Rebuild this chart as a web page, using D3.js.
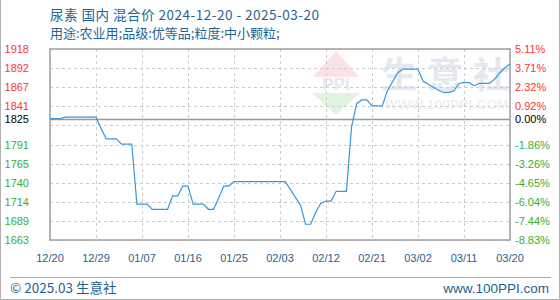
<!DOCTYPE html>
<html>
<head>
<meta charset="utf-8">
<script src="https://cdn.jsdelivr.net/npm/d3@7"></script>
<style>
  body { margin: 0; background: #fff; }
  svg { display: block; }
</style>
</head>
<body>
<div id="chart"></div>
<script>
// price data, one value per day from 2024-12-20
const startDate = "2024-12-20"
const prices = [
  1825, 1825, 1825, 1827, 1827, 1827, 1827, 1827, 1827, 1827,
  1812, 1798, 1798, 1798, 1791, 1791, 1791, 1711, 1711, 1711,
  1704, 1704, 1704, 1704, 1722, 1722, 1735, 1735, 1711, 1711,
  1711, 1704, 1704, 1719, 1735, 1735, 1741, 1741, 1741, 1741,
  1741, 1741, 1741, 1741, 1741, 1741, 1741, 1731, 1720, 1710,
  1684, 1684, 1700, 1712, 1715, 1715, 1728, 1728, 1728, 1814,
  1845, 1850, 1850, 1842, 1842, 1842, 1862, 1874, 1886, 1891,
  1891, 1891, 1891, 1875, 1871, 1867, 1863, 1860, 1860, 1862,
  1872, 1873, 1873, 1869, 1872, 1872, 1872, 1878, 1886, 1893,
  1898
]
const basePrice = 1825
const gridValues = [1663, 1688.5, 1714, 1739.5, 1765, 1790.5, 1816, 1841.5, 1867, 1892.5, 1918]
const leftTicks = [1918, 1892.5, 1867, 1841.5, 1825, 1790.5, 1765, 1739.5, 1714, 1688.5, 1663]
const leftLabels = ["1918", "1892", "1867", "1841", "1825", "1791", "1765", "1740", "1714", "1689", "1663"]
const rightLabels = ["5.11%", "3.71%", "2.32%", "0.92%", "0.00%", "-1.86%", "-3.26%", "-4.65%", "-6.04%", "-7.44%", "-8.83%"]
const dateTicks = ["2024-12-20", "2024-12-29", "2025-01-07", "2025-01-16", "2025-01-25", "2025-02-03",
                   "2025-02-12", "2025-02-21", "2025-03-02", "2025-03-11", "2025-03-20"]
const title1 = "尿素 国内 混合价 2024-12-20 - 2025-03-20"
const title2 = "用途:农业用;品级:优等品;粒度:中小颗粒;"

const W = 560, H = 300
const pL = 50, pR = 510, pT = 49, pB = 240
const parse = d3.utcParse("%Y-%m-%d")
const t0 = parse(startDate)
const data = prices.map((v, i) => ({ date: d3.utcDay.offset(t0, i), value: v }))

const x = d3.scaleUtc()
  .domain([t0, parse(dateTicks[dateTicks.length - 1])])
  .range([pL, pR])
const y = d3.scaleLinear().domain([1663, 1918]).range([pB, pT])

const svg = d3.select("#chart").append("svg")
  .attr("width", W).attr("height", H)
  .style("font-family", "'Liberation Sans', Arial, sans-serif")

// outer frame
svg.append("path")
  .attr("d", `M0.5,0 V${H - 0.5} H${W - 0.5} V0`)
  .attr("fill", "none").attr("stroke", "#b0b0b0")

// titles
const cjk = "'Noto Sans CJK SC', sans-serif"
svg.append("text").attr("x", pL).attr("y", 20).text(title1)
  .attr("fill", "#1f6499").attr("font-size", 13.5).attr("letter-spacing", 0.5).attr("font-family", cjk)
svg.append("text").attr("x", pL).attr("y", 38).text(title2)
  .attr("fill", "#1f6499").attr("font-size", 13).attr("font-family", cjk)

// watermark
const wm = svg.append("g")
wm.append("path").attr("d", "M336,51 L359,77 L313,77 Z").attr("fill", "#fbe3e3")
wm.append("text").attr("x", 336).attr("y", 90).attr("text-anchor", "middle")
  .attr("font-size", 17).attr("font-weight", "bold").attr("fill", "#e5e8f0").text("PPI")
wm.append("path").attr("d", "M312,93 L360,93 L336,115 Z").attr("fill", "#e1f3e1")
wm.selectAll("text.big").data(["生", "意", "社"]).enter().append("text")
  .attr("class", "big")
  .attr("x", (d, i) => 399 + i * 46).attr("y", 88)
  .attr("text-anchor", "middle").attr("font-size", 36).attr("font-family", cjk)
  .attr("font-weight", "bold").attr("fill", "#e5e8f0").text(d => d)
wm.append("text").attr("x", 447).attr("y", 109).attr("text-anchor", "middle")
  .attr("font-size", 13).attr("fill", "#eaeaea").attr("letter-spacing", 0.5)
  .text("WWW.100PPI.COM")

// grid
svg.append("g").selectAll("line").data(gridValues).enter().append("line")
  .attr("x1", pL).attr("x2", pR)
  .attr("y1", d => Math.round(y(d)) + 0.5).attr("y2", d => Math.round(y(d)) + 0.5)
  .attr("stroke", "#cccccc").attr("stroke-dasharray", "3,3")
svg.append("g").selectAll("line").data(dateTicks).enter().append("line")
  .attr("x1", d => Math.round(x(parse(d))) + 0.5).attr("x2", d => Math.round(x(parse(d))) + 0.5)
  .attr("y1", pT).attr("y2", pB)
  .attr("stroke", "#cccccc").attr("stroke-dasharray", "3,3")

// baseline and frame
svg.append("line")
  .attr("x1", pL).attr("x2", pR)
  .attr("y1", Math.round(y(basePrice)) + 0.5).attr("y2", Math.round(y(basePrice)) + 0.5)
  .attr("stroke", "#999").attr("stroke-width", 1.5)
svg.append("rect")
  .attr("x", pL).attr("y", pT).attr("width", pR - pL).attr("height", pB - pT)
  .attr("fill", "none").attr("stroke", "#a0a0a0").attr("stroke-width", 1.5)

// left / right axes labels
const colorOf = v => v > basePrice ? "#ff3333" : v < basePrice ? "#33b033" : "#000"
svg.append("g").selectAll("text").data(leftTicks).enter().append("text")
  .attr("x", 29).attr("y", d => y(d) + 4).attr("text-anchor", "end")
  .attr("font-size", 11).attr("fill", colorOf).text((d, i) => leftLabels[i])
svg.append("g").selectAll("text").data(leftTicks).enter().append("text")
  .attr("x", 515).attr("y", d => y(d) + 4)
  .attr("font-size", 11).attr("fill", colorOf).text((d, i) => rightLabels[i])

// x axis labels
svg.append("g").selectAll("text").data(dateTicks).enter().append("text")
  .attr("x", d => x(parse(d))).attr("y", 262).attr("text-anchor", "middle")
  .attr("font-size", 11).attr("fill", "#1f5f8f")
  .text(d => d3.utcFormat("%m/%d")(parse(d)))

// price line
const line = d3.line().x(d => x(d.date)).y(d => y(d.value))
svg.append("path").datum(data)
  .attr("d", line).attr("fill", "none")
  .attr("stroke", "#3a98d8").attr("stroke-width", 1.2)

// footer
svg.append("line").attr("x1", 10).attr("x2", 551).attr("y1", 277.5).attr("y2", 277.5)
  .attr("stroke", "#aaa")
svg.append("text").attr("x", 10).attr("y", 293).attr("font-size", 13.5)
  .attr("font-family", cjk).attr("fill", "#1f5f8f").text("© 2025.03 生意社")
svg.append("text").attr("x", 549).attr("y", 293).attr("font-size", 13.5).attr("text-anchor", "end")
  .attr("fill", "#1f5f8f").text("www.100PPI.com")
</script>
</body>
</html>
